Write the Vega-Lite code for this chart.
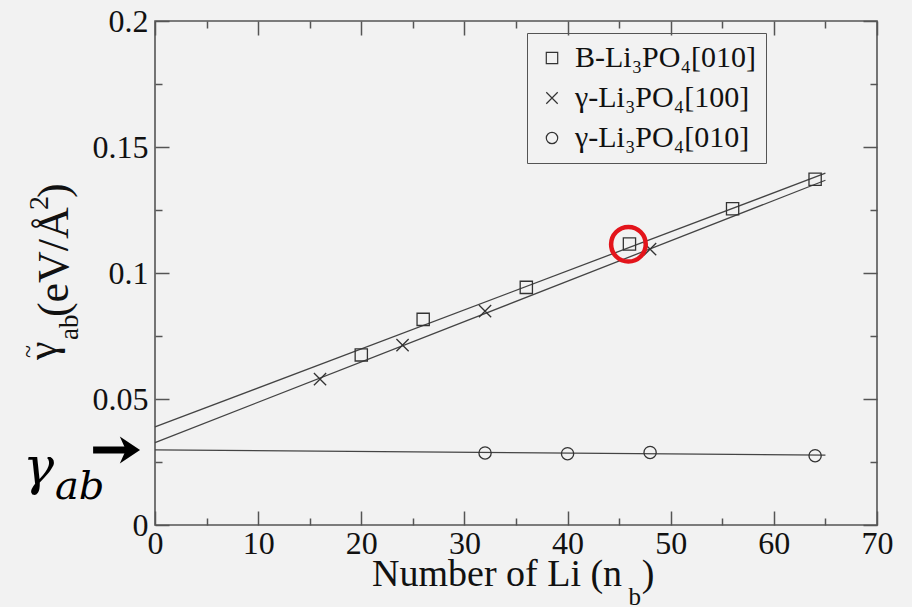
{
  "$schema": "https://vega.github.io/schema/vega-lite/v6.json",
  "width": 722,
  "height": 504,
  "autosize": {"type": "none"},
  "padding": {"left": 155, "top": 21, "right": 35, "bottom": 82},
  "background": "#f2f2f2",
  "config": {
    "view": {"stroke": "#555555", "strokeWidth": 1.6},
    "font": "Liberation Serif",
    "text": {"font": "Liberation Serif", "color": "#111111"},
    "axis": {
      "domain": false,
      "grid": false,
      "title": null,
      "labelFont": "Liberation Serif",
      "labelFontSize": 32,
      "labelColor": "#111111",
      "labelOverlap": false,
      "labelFlush": false,
      "tickColor": "#555555",
      "tickWidth": 1.5
    }
  },
  "datasets": {
    "points": [
      {"series": "B-Li₃PO₄[010]", "n": 20, "gamma": 0.0675},
      {"series": "B-Li₃PO₄[010]", "n": 26, "gamma": 0.0816},
      {"series": "B-Li₃PO₄[010]", "n": 36, "gamma": 0.0943},
      {"series": "B-Li₃PO₄[010]", "n": 46, "gamma": 0.1115},
      {"series": "B-Li₃PO₄[010]", "n": 56, "gamma": 0.1255},
      {"series": "B-Li₃PO₄[010]", "n": 64, "gamma": 0.1372},
      {"series": "γ-Li₃PO₄[100]", "n": 16, "gamma": 0.0579},
      {"series": "γ-Li₃PO₄[100]", "n": 24, "gamma": 0.0714},
      {"series": "γ-Li₃PO₄[100]", "n": 32, "gamma": 0.0849},
      {"series": "γ-Li₃PO₄[100]", "n": 48, "gamma": 0.1095},
      {"series": "γ-Li₃PO₄[010]", "n": 32, "gamma": 0.0286},
      {"series": "γ-Li₃PO₄[010]", "n": 40, "gamma": 0.0283},
      {"series": "γ-Li₃PO₄[010]", "n": 48, "gamma": 0.0288},
      {"series": "γ-Li₃PO₄[010]", "n": 64, "gamma": 0.0275}
    ],
    "fits": [
      {"series": "B-Li₃PO₄[010]", "n": 0, "gamma": 0.0389},
      {"series": "B-Li₃PO₄[010]", "n": 65, "gamma": 0.1396},
      {"series": "γ-Li₃PO₄[100]", "n": 0, "gamma": 0.0327},
      {"series": "γ-Li₃PO₄[100]", "n": 65, "gamma": 0.1368},
      {"series": "γ-Li₃PO₄[010]", "n": 0, "gamma": 0.0298},
      {"series": "γ-Li₃PO₄[010]", "n": 65, "gamma": 0.0277}
    ],
    "highlight": [
      {"n": 45.9, "gamma": 0.1114}
    ],
    "one": [{}]
  },
  "layer": [
    {
      "data": {"name": "fits"},
      "mark": {"type": "line", "color": "#444444", "strokeWidth": 1.3},
      "encoding": {
        "x": {
          "field": "n", "type": "quantitative",
          "scale": {"domain": [0, 70], "nice": false, "zero": false},
          "axis": {
            "orient": "bottom",
            "values": [0, 10, 20, 30, 40, 50, 60, 70],
            "format": "d",
            "ticks": false,
            "labelPadding": 3
          }
        },
        "y": {
          "field": "gamma", "type": "quantitative",
          "scale": {"domain": [0, 0.2], "nice": false, "zero": false},
          "axis": {
            "orient": "left",
            "values": [0, 0.05, 0.1, 0.15, 0.2],
            "format": "~g",
            "ticks": false,
            "labelPadding": 7
          }
        },
        "detail": {"field": "series"}
      }
    },
    {
      "data": {"name": "points"},
      "mark": {"type": "point", "filled": false, "color": "#333333", "strokeWidth": 1.3, "size": 150, "opacity": 1},
      "encoding": {
        "x": {
          "field": "n", "type": "quantitative",
          "axis": {
            "orient": "top",
            "values": [0, 5, 10, 15, 20, 25, 30, 35, 40, 45, 50, 55, 60, 65, 70],
            "labels": false,
            "tickSize": {"condition": {"test": "datum.value % 10 === 0", "value": -14}, "value": -7}
          }
        },
        "y": {
          "field": "gamma", "type": "quantitative",
          "axis": {
            "orient": "right",
            "values": [0, 0.025, 0.05, 0.075, 0.1, 0.125, 0.15, 0.175, 0.2],
            "labels": false,
            "tickSize": {"condition": {"test": "abs(round(datum.value * 1000) % 50) === 0", "value": -14}, "value": -7}
          }
        },
        "shape": {
          "field": "series", "type": "nominal",
          "scale": {
            "domain": ["B-Li₃PO₄[010]", "γ-Li₃PO₄[100]", "γ-Li₃PO₄[010]"],
            "range": ["square", "M-1,-1L1,1M-1,1L1,-1", "circle"]
          },
          "legend": {
            "orient": "none",
            "legendX": 372,
            "legendY": 12,
            "title": null,
            "padding": 10,
            "strokeColor": "#555555",
            "labelFont": "Liberation Serif",
            "labelFontSize": 30,
            "labelColor": "#111111",
            "labelLimit": 400,
            "labelOffset": 8,
            "rowPadding": 10,
            "symbolSize": 130,
            "symbolStrokeWidth": 1.2,
            "symbolStrokeColor": "#333333"
          }
        }
      }
    },
    {
      "data": {"name": "highlight"},
      "mark": {"type": "point", "shape": "circle", "filled": false, "color": "#e3141b", "strokeWidth": 4.5, "size": 1200, "opacity": 1},
      "encoding": {
        "x": {
          "field": "n", "type": "quantitative",
          "axis": {
            "orient": "bottom",
            "values": [0, 5, 10, 15, 20, 25, 30, 35, 40, 45, 50, 55, 60, 65, 70],
            "labels": false,
            "tickSize": {"condition": {"test": "datum.value % 10 === 0", "value": -14}, "value": -7}
          }
        },
        "y": {
          "field": "gamma", "type": "quantitative",
          "axis": {
            "orient": "left",
            "values": [0, 0.025, 0.05, 0.075, 0.1, 0.125, 0.15, 0.175, 0.2],
            "labels": false,
            "tickSize": {"condition": {"test": "abs(round(datum.value * 1000) % 50) === 0", "value": -14}, "value": -7}
          }
        }
      }
    },
    {
      "data": {"name": "one"},
      "mark": {"type": "rule", "color": "#000000", "strokeWidth": 7},
      "encoding": {
        "x": {"datum": -6.0, "type": "quantitative", "axis": null},
        "x2": {"datum": -2.6},
        "y": {"datum": 0.0298, "type": "quantitative", "axis": null}
      }
    },
    {
      "data": {"name": "one"},
      "mark": {"type": "point", "shape": "M-0.75,-1L0.75,0L-0.75,1L-0.3,0Z", "filled": true, "color": "#000000", "size": 729, "opacity": 1, "strokeWidth": 0},
      "encoding": {
        "x": {"datum": -2.43, "type": "quantitative", "axis": null},
        "y": {"datum": 0.0298, "type": "quantitative", "axis": null}
      }
    },
    {
      "data": {"name": "one"},
      "mark": {"type": "text", "text": "γ", "font": "DejaVu Serif", "fontStyle": "italic", "fontSize": 52, "align": "left", "baseline": "alphabetic", "color": "#000000"},
      "encoding": {
        "x": {"datum": -12.8, "type": "quantitative", "axis": null},
        "y": {"datum": 0.0163, "type": "quantitative", "axis": null}
      }
    },
    {
      "data": {"name": "one"},
      "mark": {"type": "text", "text": "ab", "font": "DejaVu Serif", "fontStyle": "italic", "fontSize": 40, "align": "left", "baseline": "alphabetic", "color": "#000000"},
      "encoding": {
        "x": {"datum": -9.7, "type": "quantitative", "axis": null},
        "y": {"datum": 0.0103, "type": "quantitative", "axis": null}
      }
    },
    {
      "data": {"name": "one"},
      "mark": {"type": "text", "text": "~", "angle": 270, "fontSize": 24, "align": "left", "baseline": "alphabetic"},
      "encoding": {
        "x": {"datum": -11.54, "type": "quantitative", "axis": null},
        "y": {"datum": 0.0663, "type": "quantitative", "axis": null}
      }
    },
    {
      "data": {"name": "one"},
      "mark": {"type": "text", "text": "γ", "angle": 270, "fontSize": 42, "align": "left", "baseline": "alphabetic"},
      "encoding": {
        "x": {"datum": -9.6, "type": "quantitative", "axis": null},
        "y": {"datum": 0.0655, "type": "quantitative", "axis": null}
      }
    },
    {
      "data": {"name": "one"},
      "mark": {"type": "text", "text": "ab", "angle": 270, "fontSize": 27, "align": "left", "baseline": "alphabetic"},
      "encoding": {
        "x": {"datum": -7.47, "type": "quantitative", "axis": null},
        "y": {"datum": 0.0734, "type": "quantitative", "axis": null}
      }
    },
    {
      "data": {"name": "one"},
      "mark": {"type": "text", "text": "(eV/Å", "angle": 270, "fontSize": 44, "align": "left", "baseline": "alphabetic"},
      "encoding": {
        "x": {"datum": -8.43, "type": "quantitative", "axis": null},
        "y": {"datum": 0.0825, "type": "quantitative", "axis": null}
      }
    },
    {
      "data": {"name": "one"},
      "mark": {"type": "text", "text": "2", "angle": 270, "fontSize": 28, "align": "left", "baseline": "alphabetic"},
      "encoding": {
        "x": {"datum": -10.37, "type": "quantitative", "axis": null},
        "y": {"datum": 0.125, "type": "quantitative", "axis": null}
      }
    },
    {
      "data": {"name": "one"},
      "mark": {"type": "text", "text": ")", "angle": 270, "fontSize": 44, "align": "left", "baseline": "alphabetic"},
      "encoding": {
        "x": {"datum": -8.43, "type": "quantitative", "axis": null},
        "y": {"datum": 0.1298, "type": "quantitative", "axis": null}
      }
    },
    {
      "data": {"name": "one"},
      "mark": {"type": "text", "text": "Number of Li (n", "fontSize": 38, "align": "left", "baseline": "alphabetic"},
      "encoding": {
        "x": {"datum": 21.04, "type": "quantitative", "axis": null},
        "y": {"datum": -0.0242, "type": "quantitative", "axis": null}
      }
    },
    {
      "data": {"name": "one"},
      "mark": {"type": "text", "text": "b", "fontSize": 25, "align": "left", "baseline": "alphabetic"},
      "encoding": {
        "x": {"datum": 45.9, "type": "quantitative", "axis": null},
        "y": {"datum": -0.0317, "type": "quantitative", "axis": null}
      }
    },
    {
      "data": {"name": "one"},
      "mark": {"type": "text", "text": ")", "fontSize": 38, "align": "left", "baseline": "alphabetic"},
      "encoding": {
        "x": {"datum": 47.2, "type": "quantitative", "axis": null},
        "y": {"datum": -0.0242, "type": "quantitative", "axis": null}
      }
    }
  ],
  "resolve": {"axis": {"x": "independent", "y": "independent"}}
}
